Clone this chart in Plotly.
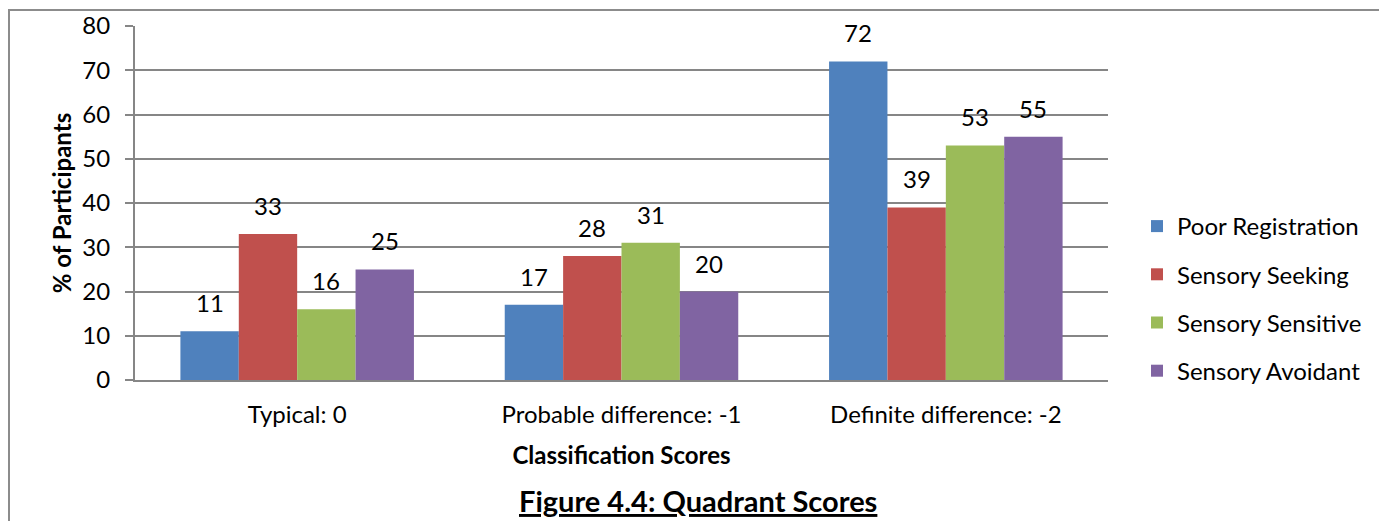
import plotly.graph_objects as go

categories = ["Typical: 0", "Probable difference: -1", "Definite difference: -2"]
series_names = ["Poor Registration", "Sensory Seeking", "Sensory Sensitive", "Sensory Avoidant"]
poor_registration = [11, 17, 72]
sensory_seeking = [33, 28, 39]
sensory_sensitive = [16, 31, 53]
sensory_avoidant = [25, 20, 55]
colors = ["#4F81BD", "#C0504D", "#9BBB59", "#8064A2"]
y_ticks = [0, 10, 20, 30, 40, 50, 60, 70, 80]

FONT = "Lato, Open Sans, sans-serif"
FS = 24

W, H = 1379, 521
L, R, T, B = 135, 1108, 26, 380
pw, ph = R - L, B - T
BARGAP = 0.28

def px_x(x):
    return (x - L) / pw

def px_y(y):
    return (B - y) / ph

all_series = [poor_registration, sensory_seeking, sensory_sensitive, sensory_avoidant]
n = len(all_series)
cat_w = pw / len(categories)
bar_w = cat_w * (1 - BARGAP) / n

fig = go.Figure()
annotations = []
for i, (name, vals, col) in enumerate(zip(series_names, all_series, colors)):
    fig.add_trace(go.Bar(
        x=categories, y=vals, name=name, legendgroup=name,
        marker=dict(color=col, line=dict(width=0)),
    ))
    # value labels sitting above each bar
    for c, v in zip(categories, vals):
        annotations.append(dict(
            x=c, y=v, xref="x", yref="y", text=str(v), showarrow=False,
            xanchor="center", yanchor="bottom", yshift=12,
            xshift=(i - (n - 1) / 2) * bar_w,
            font=dict(size=FS, family=FONT, color="black"),
        ))

annotations.append(dict(
    text="<b><u>Figure 4.4: Quadrant Scores</u></b>", xref="paper", yref="paper",
    x=px_x(698), y=px_y(500), showarrow=False, xanchor="center", yanchor="middle",
    font=dict(size=29, family=FONT)))

fig.update_layout(
    width=W, height=H,
    margin=dict(l=L, r=W - R, t=T, b=H - B, autoexpand=False),
    paper_bgcolor="white", plot_bgcolor="white",
    barmode="group", bargap=BARGAP, bargroupgap=0,
    font=dict(family=FONT, size=FS, color="black"),
    showlegend=True,
    legend=dict(x=px_x(1137), y=px_y(204), xanchor="left", yanchor="top",
                font=dict(size=FS, family=FONT), tracegroupgap=14,
                itemwidth=30, bgcolor="rgba(0,0,0,0)"),
    xaxis=dict(showline=True, linecolor="#868686", linewidth=2, ticks="",
               tickfont=dict(size=FS), ticklabelstandoff=12,
               title=dict(text="<b>Classification Scores</b>", font=dict(size=FS), standoff=20)),
    yaxis=dict(range=[0, 80], tickvals=y_ticks, showgrid=True, gridcolor="#868686",
               gridwidth=1.5, showline=True, linecolor="#868686", linewidth=2,
               ticks="outside", ticklen=8, tickcolor="#868686", tickwidth=2,
               tickfont=dict(size=FS), ticklabelstandoff=10, zeroline=False,
               title=dict(text="<b>% of Participants</b>", font=dict(size=FS), standoff=4)),
    shapes=[dict(type="rect", xref="paper", yref="paper",
                 x0=px_x(9), x1=px_x(1390), y0=px_y(530), y1=px_y(10),
                 line=dict(color="#8c8c8c", width=2), layer="below")],
    annotations=annotations,
)

fig.write_html("out.html")
